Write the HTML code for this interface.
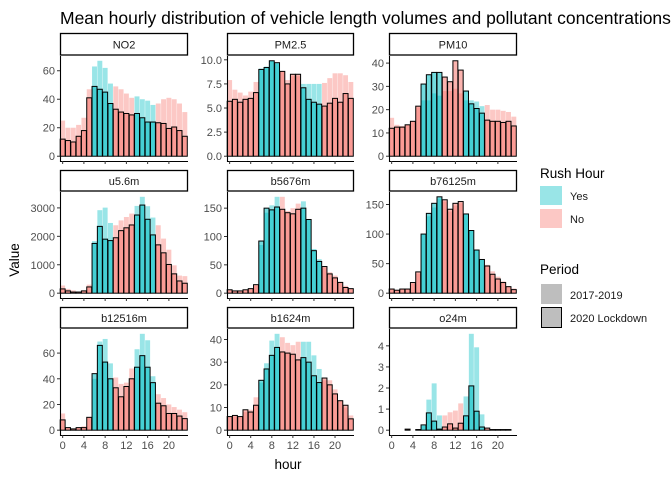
<!DOCTYPE html>
<html><head><meta charset="utf-8"><style>
html,body{margin:0;padding:0;background:#fff;overflow:hidden}
svg{display:block;font-family:"Liberation Sans",Arial,sans-serif}
</style></head><body>
<svg id="chart" width="672" height="480" viewBox="0 0 672 480">
<text x="60" y="24" font-size="17.5" fill="#000">Mean hourly distribution of vehicle length volumes and pollutant concentrations</text>
<text transform="translate(19,260) rotate(-90)" text-anchor="middle" font-size="13.5" fill="#000">Value</text>
<text x="288" y="469" text-anchor="middle" font-size="13.5" fill="#000">hour</text>
<g>
<text x="540" y="178" font-size="13.5">Rush Hour</text>
<rect x="540" y="186" width="22" height="19" fill="#99E5E7"/>
<text x="570" y="200" font-size="11" fill="#1a1a1a">Yes</text>
<rect x="540" y="209" width="22" height="19" fill="#FCC8C5"/>
<text x="570" y="223" font-size="11" fill="#1a1a1a">No</text>
<text x="540" y="274" font-size="13.5">Period</text>
<rect x="541" y="284" width="21" height="20" fill="#BEBEBE"/>
<text x="570" y="299" font-size="11" fill="#1a1a1a">2017-2019</text>
<rect x="541.5" y="307.5" width="20" height="20" fill="#BEBEBE" stroke="#000" stroke-width="1"/>
<text x="570" y="322" font-size="11" fill="#1a1a1a">2020 Lockdown</text>
</g>
</svg>
<script>
const hours = [0,1,2,3,4,5,6,7,8,9,10,11,12,13,14,15,16,17,18,19,20,21,22,23];
const rushHours = [6,7,8,9,14,15,16,17];
const panelNames = ["NO2","PM2.5","PM10","u5.6m","b5676m","b76125m","b12516m","b1624m","o24m"];
const no2Old = [25,20,20,22,27,47,63,67,62,51,49,47,44,41,42,40,39,36,37,40,41,40,37,31];
const no2New = [12,11,10,14,18,41,49,47,45,37,33,31,30,29,30,27,24,24,23.5,23,19.5,20.5,18,14];
const pm25Old = [7.9,6.9,6.6,6.3,6.7,7.7,9.1,9.3,9.9,9.6,8.8,7.9,8.3,8.3,7.5,7.5,7.5,7.5,7.6,8.1,8.6,8.6,8.4,7.7];
const pm25New = [5.7,5.9,5.6,5.9,6.0,6.6,9.0,9.2,9.9,9.7,8.8,7.5,8.5,8.5,7.1,5.9,5.6,5.4,5.2,5.5,6.0,5.6,6.5,6.0];
const pm10Old = [16.5,13.5,13,13.5,15,21,24,24,27,26,28,28,29,27,24,24,23.5,21.5,22,20,20,19.5,19,17];
const pm10New = [12,12.5,12.5,13.5,15,21.5,31,35,36,36,34,32,41,37,28,22.5,20.5,18.5,15.5,15,15,14.5,15,13];
const u56Old = [270,150,100,50,100,300,1830,2920,3010,2470,2390,2560,2680,2800,3070,3390,3060,2660,2390,1920,1530,980,620,600];
const u56New = [150,80,40,40,80,220,1750,2350,1900,1850,1950,2200,2300,2400,2750,3100,2600,2050,1700,1420,1010,680,430,350];
const b5676Old = [5,4,4,5,7,13,85,142,155,170,170,145,150,158,162,130,78,60,45,37,31,20,13,8];
const b5676New = [6,4,4,6,8,15,92,150,147,152,148,142,140,148,150,130,75,56,47,34,27,19,10,8];
const b76125Old = [7,5,7,7,16,33,100,130,145,160,155,138,148,152,133,106,73,57,48,37,28,20,12,8];
const b76125New = [7,5,7,7,18,36,100,135,152,163,158,142,152,155,134,106,73,57,46,32,24,18,11,6];
const b12516Old = [13,2,1,2,3,10,40,69,71,52,41,36,37,48,63,75,70,42,28,25,20,18,16,14];
const b12516New = [8,2,1,2,2,10,44,66,53,40,33,26,34,40,49,58,49,37,21,19,13,13,11,9];
const b1624Old = [6,6,6,8,9,14.5,21,29.5,39.5,42.5,41,38.5,37.5,39,39,39,33,27,22,22,18,13,10,6.5];
const b1624New = [6,6.5,6,9,8,11,22,27,33,36.5,34.5,34,33.5,31,32,30,24,21,23,20,16,13,11,5];
const o24Old = [0,0,0,0.02,0,0.02,0.2,1.45,2.22,0.7,0.7,0.85,0.93,1.27,1.6,4.57,3.93,0.75,0.1,0.05,0.03,0.03,0.03,0];
const o24New = [0,0,0,0.05,0,0.03,0.25,0.82,0.43,0.05,0.15,0.3,0.1,0.33,0.68,2.1,0.9,0.15,0.1,0.03,0.03,0.03,0.03,0];
const xTicks = [0,4,8,12,16,20];
const yTicksNO2 = [0,20,40,60];
const yTicksPM25 = [0,2.5,5,7.5,10];
const yTicksPM10 = [0,10,20,30,40];
const yTicksU56 = [0,1000,2000,3000];
const yTicksB5676 = [0,50,100,150];
const yTicksB76125 = [0,50,100,150];
const yTicksB12516 = [0,20,40,60];
const yTicksB1624 = [0,10,20,30,40];
const yTicksO24 = [0,1,2,3,4];

const oldSeries = [no2Old,pm25Old,pm10Old,u56Old,b5676Old,b76125Old,b12516Old,b1624Old,o24Old];
const newSeries = [no2New,pm25New,pm10New,u56New,b5676New,b76125New,b12516New,b1624New,o24New];
const tickSets = [yTicksNO2,yTicksPM25,yTicksPM10,yTicksU56,yTicksB5676,yTicksB76125,yTicksB12516,yTicksB1624,yTicksO24];

const NS = "http://www.w3.org/2000/svg";
const svg = document.getElementById("chart");
const colX = [[60,188],[227,354],[389,517]];
const rowY = [[33,56,161],[170,192,298],[307,329,435]];
function mk(tag, attrs, parent){const e=document.createElementNS(NS,tag);for(const k in attrs)e.setAttribute(k,attrs[k]);parent.appendChild(e);return e;}

for (let p=0;p<9;p++){
  const c=p%3, r=Math.floor(p/3);
  const [x0,x1]=colX[c]; const [sTop,pTop,pBot]=rowY[r];
  const name=panelNames[p].toLowerCase().replace(/\./g,'-');
  const g=mk('g',{},svg);
  
  
  const strip=mk('rect',{x:x0+0.5,y:sTop+0.5,width:x1-x0-1,height:pTop-sTop-1.5,fill:'#fff',stroke:'#000','stroke-width':1.3},g);
  
  
  const st=mk('text',{x:(x0+x1)/2,y:(sTop+pTop)/2+4,'text-anchor':'middle','font-size':11,fill:'#1a1a1a'},g);
  st.textContent=panelNames[p];
  
  
  const M=Math.max(...oldSeries[p],...newSeries[p]);
  const lo=-0.05*M, hi=1.05*M;
  const ys=v=>pBot-(v-lo)/(hi-lo)*(pBot-pTop);
  const xs=h=>x0+(h+0.5)/(24.1)*(x1-x0);
  const bw=(x1-x0)/24.1*0.93;
  const y0=ys(0);
  hours.forEach((h,i)=>{
    const rush=rushHours.includes(h);
    const v=oldSeries[p][i];
    const b=mk('rect',{x:xs(h)-bw/2,y:Math.min(ys(v),y0),width:bw,height:Math.abs(y0-ys(v)),fill:rush?'#00BFC4':'#F8766D','fill-opacity':0.4},g);
    
    
  });
  hours.forEach((h,i)=>{
    const rush=rushHours.includes(h);
    const v=newSeries[p][i];
    const b=mk('rect',{x:xs(h)-bw/2,y:Math.min(ys(v),y0),width:bw,height:Math.abs(y0-ys(v)),fill:rush?'#00BFC4':'#F8766D','fill-opacity':0.55,stroke:'#000','stroke-width':1},g);
    
    
  });
  const ax=mk('path',{d:`M${x0+0.5},${pTop} V${pBot+0.5} H${x1}`,fill:'none',stroke:'#000','stroke-width':1.1},g);
  
  
  tickSets[p].forEach(t=>{
    const y=ys(t);
    mk('line',{x1:x0-3,x2:x0,y1:y,y2:y,stroke:'#333','stroke-width':1},g);
    const lt=mk('text',{x:x0-5,y:y+4,'text-anchor':'end','font-size':11,fill:'#4D4D4D'},g);
    lt.textContent=(p===1)?t.toFixed(1):String(t);
    
    
  });
  xTicks.forEach(t=>{
    const x=xs(t);
    mk('line',{x1:x,x2:x,y1:pBot,y2:pBot+3,stroke:'#333','stroke-width':1},g);
    if(r===2){
      const lt=mk('text',{x:x,y:pBot+14,'text-anchor':'middle','font-size':11,fill:'#4D4D4D'},g);
      lt.textContent=String(t);
      
      
    }
  });
}
</script>
</body></html>
